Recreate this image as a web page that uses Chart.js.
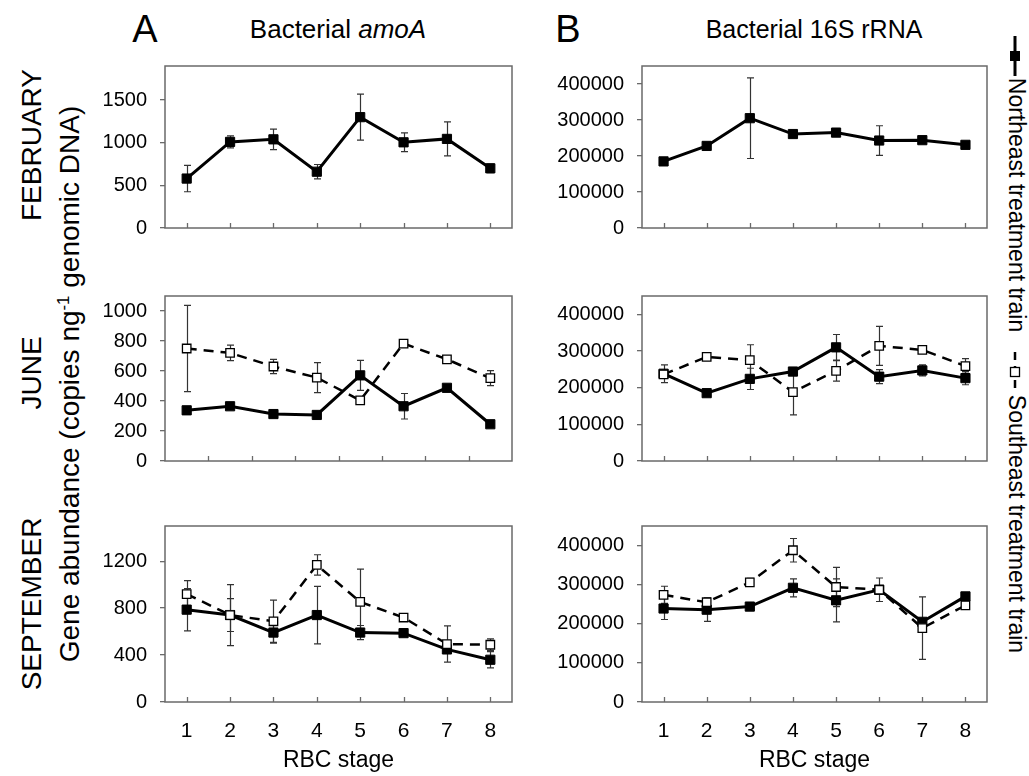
<!DOCTYPE html>
<html><head><meta charset="utf-8">
<script src="https://cdn.jsdelivr.net/npm/chart.js@4/dist/chart.umd.min.js"></script>
<style>
body{margin:0;background:#fff;width:1029px;height:776px;position:relative;overflow:hidden;font-family:"Liberation Sans",Arial,sans-serif;color:#000;}
canvas{position:absolute;}
.t{position:absolute;white-space:nowrap;line-height:1;transform:translate(-50%,-50%);}
.r{transform:translate(-50%,-50%) rotate(-90deg);}
.l{transform:translate(-50%,-50%) rotate(90deg);}
sup{font-size:60%;vertical-align:0.6em;line-height:0;}
</style></head><body>
<div class="t" style="left:145px;top:29px;font-size:38px">A</div>
<div class="t" style="left:568px;top:29px;font-size:38px">B</div>
<div class="t" style="left:338px;top:29px;font-size:26px">Bacterial <i>amoA</i></div>
<div class="t" style="left:814px;top:29px;font-size:25px">Bacterial 16S rRNA</div>
<div class="t r" style="left:32px;top:145px;font-size:28px">FEBRUARY</div>
<div class="t r" style="left:32px;top:373px;font-size:28px">JUNE</div>
<div class="t r" style="left:32px;top:604px;font-size:28px">SEPTEMBER</div>
<div class="t r" style="left:70px;top:384px;font-size:28px">Gene abundance (copies ng<sup>-1</sup> genomic DNA)</div>
<svg style="position:absolute;left:1005px;top:36px" width="20" height="40"><line x1="10" y1="0" x2="10" y2="40" stroke="#000" stroke-width="3"/><rect x="5" y="15" width="10" height="10" fill="#000"/></svg>
<div class="t l" style="left:1016px;top:205px;font-size:23px">Northeast treatment train</div>
<svg style="position:absolute;left:1005px;top:352px" width="20" height="40"><line x1="10" y1="0" x2="10" y2="40" stroke="#000" stroke-width="2.5" stroke-dasharray="8,6"/><rect x="5.5" y="15.5" width="9" height="9" fill="#fff" stroke="#000" stroke-width="1.3"/></svg>
<div class="t l" style="left:1016px;top:524px;font-size:23px">Southeast treatment train</div>

<canvas id="fa" width="435" height="212" style="left:85px;top:41px"></canvas>
<canvas id="fb" width="463" height="212" style="left:532px;top:41px"></canvas>
<canvas id="ja" width="435" height="215" style="left:85px;top:271px"></canvas>
<canvas id="jb" width="463" height="215" style="left:532px;top:271px"></canvas>
<canvas id="sa" width="435" height="275" style="left:85px;top:501px"></canvas>
<canvas id="sb" width="463" height="275" style="left:532px;top:501px"></canvas>
<script>
// ---- data ----
const stages = ['1','2','3','4','5','6','7','8'];
const xTitle = 'RBC stage';

const amoaFebTicks = [0, 500, 1000, 1500];
const amoaJunTicks = [0, 200, 400, 600, 800, 1000];
const amoaSepTicks = [0, 400, 800, 1200];
const rrnaTicks = [0, 100000, 200000, 300000, 400000];
const amoaFebMax = 1900, amoaJunMax = 1100, amoaSepMax = 1500, rrnaMax = 450000;

const febAmoaNE = [580, 1010, 1040, 660, 1300, 1005, 1045, 700];
const febAmoaNEErr = [155, 70, 120, 85, 270, 110, 200, 50];

const febRrnaNE = [185000, 228000, 305000, 261000, 265000, 243000, 244000, 231000];
const febRrnaNEErr = [0, 0, 112000, 0, 0, 41000, 0, 0];

const junAmoaNE = [338, 365, 313, 307, 571, 365, 488, 245];
const junAmoaNEErr = [0, 0, 0, 0, 100, 85, 0, 0];
const junAmoaSE = [750, 721, 630, 556, 404, 783, 678, 552];
const junAmoaSEErr = [288, 52, 48, 100, 0, 0, 0, 50];

const junRrnaNE = [238000, 185000, 224000, 244000, 310000, 230000, 247000, 226000];
const junRrnaNEErr = [24000, 0, 29000, 0, 35000, 19000, 15000, 18000];
const junRrnaSE = [236000, 284000, 275000, 188000, 246000, 314000, 303000, 259000];
const junRrnaSEErr = [0, 0, 42000, 62000, 28000, 53000, 0, 20000];

const sepAmoaNE = [787, 741, 592, 741, 592, 587, 448, 360];
const sepAmoaNEErr = [180, 140, 90, 245, 60, 0, 0, 70];
const sepAmoaSE = [920, 741, 688, 1168, 853, 720, 494, 488];
const sepAmoaSEErr = [115, 260, 180, 87, 280, 0, 155, 50];

const sepRrnaNE = [239000, 236000, 244000, 292000, 260000, 287000, 205000, 270000];
const sepRrnaNEErr = [28000, 30000, 0, 23000, 55000, 30000, 0, 0];
const sepRrnaSE = [274000, 255000, 306000, 388000, 294000, 287000, 189000, 247000];
const sepRrnaSEErr = [22000, 0, 10000, 30000, 50000, 0, 80000, 0];

// ---- drawing ----
Chart.defaults.font.family = '"Liberation Sans", Arial, sans-serif';
Chart.defaults.color = '#000';
const AXIS = '#6a6a6a';

const framePlugin = {
  id: 'frame',
  beforeDatasetsDraw(chart, args, opts) {
    const {ctx, chartArea: a, scales} = chart;
    ctx.save();
    ctx.strokeStyle = AXIS; ctx.lineWidth = 1.5;
    ctx.strokeRect(a.left, a.top, a.right - a.left, a.bottom - a.top);
    const n = chart.data.labels.length;
    const step = scales.x.getPixelForValue(1) - scales.x.getPixelForValue(0);
    ctx.lineWidth = 1.3;
    ctx.beginPath();
    if (opts.between) {
      for (let i = 0; i < n - 1; i++) {
        const x = Math.round(scales.x.getPixelForValue(i) + step / 2) + 0.5;
        ctx.moveTo(x, a.bottom); ctx.lineTo(x, a.bottom - 5);
      }
    } else {
      for (let i = 0; i < n; i++) {
        const x = Math.round(scales.x.getPixelForValue(i)) + 0.5;
        ctx.moveTo(x, a.bottom); ctx.lineTo(x, a.bottom - 5);
      }
    }
    ctx.stroke();
    ctx.strokeStyle = '#333'; ctx.lineWidth = 1.2;
    chart.data.datasets.forEach(ds => {
      if (!ds.errors) return;
      ds.data.forEach((v, i) => {
        const e = ds.errors[i];
        if (!e) return;
        const x = Math.round(scales.x.getPixelForValue(i)) + 0.5;
        const y1 = scales.y.getPixelForValue(v + e);
        const y2 = scales.y.getPixelForValue(Math.max(0, v - e));
        ctx.beginPath();
        ctx.moveTo(x, y1); ctx.lineTo(x, y2);
        ctx.moveTo(x - 3.5, y1); ctx.lineTo(x + 3.5, y1);
        ctx.moveTo(x - 3.5, y2); ctx.lineTo(x + 3.5, y2);
        ctx.stroke();
      });
    });
    ctx.restore();
  }
};

function neSet(data, errors) {
  return {label: 'Northeast treatment train', data, errors, borderColor: '#000', borderWidth: 3,
    pointStyle: 'rect', pointRadius: 6.5, pointBackgroundColor: '#000', pointBorderColor: '#000',
    pointBorderWidth: 1, tension: 0, fill: false, order: 2};
}
function seSet(data, errors) {
  return {label: 'Southeast treatment train', data, errors, borderColor: '#000', borderWidth: 2.5,
    borderDash: [10, 7], pointStyle: 'rect', pointRadius: 6, pointBackgroundColor: '#fff',
    pointBorderColor: '#000', pointBorderWidth: 1.3, tension: 0, fill: false, order: 1};
}

function panel(id, datasets, ticks, max, yWidth, opts) {
  const bottomRow = !!opts.bottom;
  new Chart(document.getElementById(id), {
    type: 'line',
    data: {labels: stages, datasets},
    plugins: [framePlugin],
    options: {
      responsive: false, animation: false, devicePixelRatio: 1,
      layout: {padding: {top: 12, right: 8, left: 0, bottom: 0}},
      plugins: {legend: {display: false}, tooltip: {enabled: false}, frame: {between: !!opts.between}},
      scales: {
        x: {
          offset: true,
          grid: {display: false},
          border: {display: false},
          ticks: {display: bottomRow, font: {size: 21}, padding: 9, maxRotation: 0, autoSkip: false},
          title: {display: bottomRow, text: xTitle, font: {size: 23}, padding: {top: 0, bottom: 2}},
          afterFit: s => { s.height = bottomRow ? 74 : 14; }
        },
        y: {
          min: 0, max,
          afterBuildTicks: s => { s.ticks = ticks.map(v => ({value: v})); },
          grid: {display: true, drawOnChartArea: false, drawTicks: true, tickLength: 5, color: AXIS, lineWidth: 1.3},
          border: {display: false},
          ticks: {font: {size: 20}, padding: 13, callback: v => String(v)},
          afterFit: s => { s.width = yWidth; }
        }
      }
    }
  });
}

panel('fa', [neSet(febAmoaNE, febAmoaNEErr)], amoaFebTicks, amoaFebMax, 80, {});
panel('fb', [neSet(febRrnaNE, febRrnaNEErr)], rrnaTicks, rrnaMax, 110, {});
panel('ja', [seSet(junAmoaSE, junAmoaSEErr), neSet(junAmoaNE, junAmoaNEErr)], amoaJunTicks, amoaJunMax, 80, {between: true});
panel('jb', [seSet(junRrnaSE, junRrnaSEErr), neSet(junRrnaNE, junRrnaNEErr)], rrnaTicks, rrnaMax, 110, {});
panel('sa', [seSet(sepAmoaSE, sepAmoaSEErr), neSet(sepAmoaNE, sepAmoaNEErr)], amoaSepTicks, amoaSepMax, 80, {bottom: true});
panel('sb', [seSet(sepRrnaSE, sepRrnaSEErr), neSet(sepRrnaNE, sepRrnaNEErr)], rrnaTicks, rrnaMax, 110, {bottom: true});
</script>
</body></html>
